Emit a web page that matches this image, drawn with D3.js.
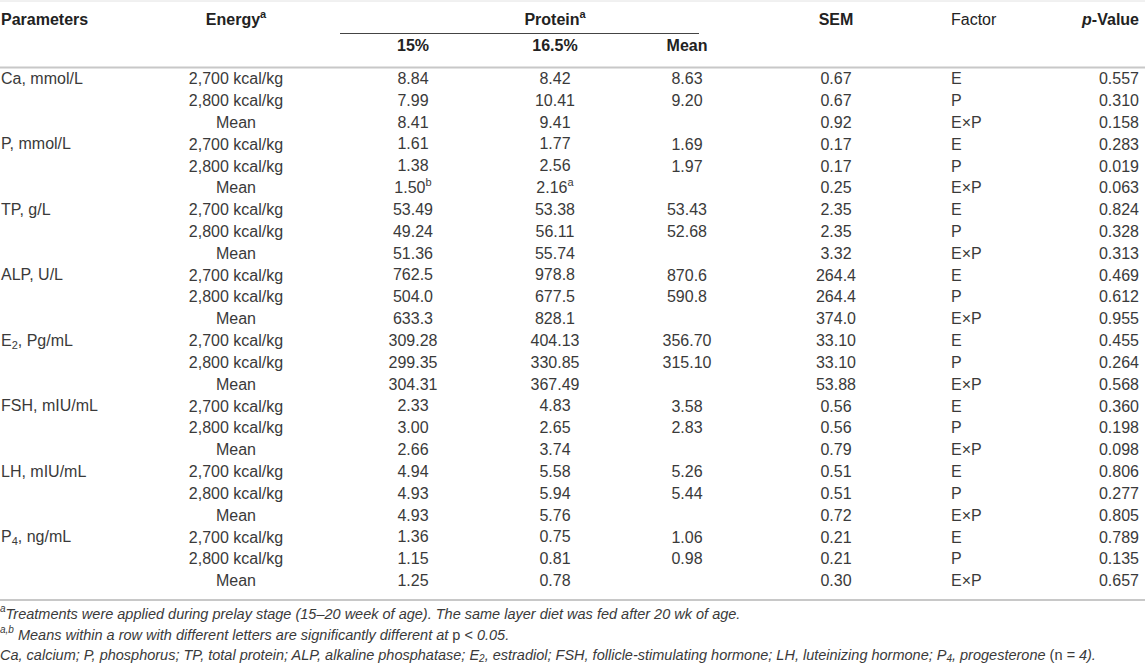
<!DOCTYPE html>
<html><head><meta charset="utf-8">
<script src="https://cdn.jsdelivr.net/npm/d3@7"></script>
<style>body{margin:0;background:#fff}svg{display:block}</style>
</head><body><svg id="c" width="1145" height="667"></svg>
<script>
// ---- data ----
const parameterNames = [["Ca","",", mmol/L"],["P","",", mmol/L"],["TP","",", g/L"],["ALP","",", U/L"],["E","2",", Pg/mL"],["FSH","",", mIU/mL"],["LH","",", mIU/mL"],["P","4",", ng/mL"]];
const energyLevels = ["2,700 kcal/kg","2,800 kcal/kg","Mean"];
const protein15 = ["8.84","7.99","8.41","1.61","1.38","1.50","53.49","49.24","51.36","762.5","504.0","633.3","309.28","299.35","304.31","2.33","3.00","2.66","4.94","4.93","4.93","1.36","1.15","1.25"];
const protein15Letters = ["","","","","","b","","","","","","","","","","","","","","","","","",""];
const protein165 = ["8.42","10.41","9.41","1.77","2.56","2.16","53.38","56.11","55.74","978.8","677.5","828.1","404.13","330.85","367.49","4.83","2.65","3.74","5.58","5.94","5.76","0.75","0.81","0.78"];
const protein165Letters = ["","","","","","a","","","","","","","","","","","","","","","","","",""];
const energyMeans = ["8.63","9.20","","1.69","1.97","","53.43","52.68","","870.6","590.8","","356.70","315.10","","3.58","2.83","","5.26","5.44","","1.06","0.98",""];
const semValues = ["0.67","0.67","0.92","0.17","0.17","0.25","2.35","2.35","3.32","264.4","264.4","374.0","33.10","33.10","53.88","0.56","0.56","0.79","0.51","0.51","0.72","0.21","0.21","0.30"];
const factors = ["E","P","E×P"];
const pValues = ["0.557","0.310","0.158","0.283","0.019","0.063","0.824","0.328","0.313","0.469","0.612","0.955","0.455","0.264","0.568","0.360","0.198","0.098","0.806","0.277","0.805","0.789","0.135","0.657"];
const headerTop = ["Parameters","Energy","Protein","SEM","Factor","p-Value"];
const headerSub = ["15%","16.5%","Mean"];

// ---- layout ----
const svg = d3.select("#c");
const FONT = "'Liberation Sans', Arial, Helvetica, sans-serif";
const TXT = "#3a3a3a";
const col = {param:1, energy:236, p15:413, p165:555, mean:687, sem:836, factor:951, pval:1139};
const nRows = parameterNames.length * energyLevels.length;
const y = d3.scalePoint().domain(d3.range(nRows)).range([80, 582]);

function txt(x, yy, anchor, opts={}) {
  return svg.append("text").attr("x", x).attr("y", yy)
    .attr("text-anchor", anchor).attr("dominant-baseline","middle")
    .attr("font-family", FONT).attr("font-size", opts.size || 16)
    .attr("font-weight", opts.bold ? "bold" : "normal")
    .attr("font-style", opts.italic ? "italic" : "normal")
    .attr("fill", opts.fill || TXT);
}
// small raised / lowered pieces; the following tspan restores the baseline
function sup(t, s, size) { t.append("tspan").attr("dy", -6).attr("font-size", size || 11).text(s); return 6; }
function sub(t, s, size, d) { d = d || 4; t.append("tspan").attr("dy", d).attr("font-size", size || 11).text(s); return -d; }

// lines
svg.append("line").attr("x1",0).attr("x2",1145).attr("y1",1).attr("y2",1).attr("stroke","#e2e2e2").attr("stroke-width",1);
svg.append("line").attr("x1",0).attr("x2",1145).attr("y1",67.5).attr("y2",67.5).attr("stroke","#c8c8c8").attr("stroke-width",2);
svg.append("line").attr("x1",340).attr("x2",699).attr("y1",33.5).attr("y2",33.5).attr("stroke","#444").attr("stroke-width",1.2);
svg.append("line").attr("x1",0).attr("x2",1145).attr("y1",600).attr("y2",600).attr("stroke","#c8c8c8").attr("stroke-width",2);

// header
const H = {bold:true, fill:"#222"};
txt(col.param, 21, "start", H).text(headerTop[0]);
let t = txt(col.energy, 21, "middle", H); t.append("tspan").text(headerTop[1]); sup(t,"a");
t = txt(col.p165, 21, "middle", H); t.append("tspan").text(headerTop[2]); sup(t,"a");
txt(col.sem, 21, "middle", H).text(headerTop[3]);
txt(col.factor, 21, "start", {fill:"#222"}).text(headerTop[4]);
t = txt(col.pval, 21, "end", H); t.append("tspan").attr("font-style","italic").text("p"); t.append("tspan").text(headerTop[5].slice(1));
txt(col.p15, 47, "middle", H).text(headerSub[0]);
txt(col.p165, 47, "middle", H).text(headerSub[1]);
txt(col.mean, 47, "middle", H).text(headerSub[2]);

// body
d3.range(nRows).forEach(i => {
  const g = Math.floor(i / 3), k = i % 3, yy = y(i);
  if (k === 0) {
    const p = parameterNames[g];
    const tt = txt(col.param, yy, "start");
    tt.append("tspan").text(p[0]);
    let back = 0;
    if (p[1]) back = sub(tt, p[1]);
    tt.append("tspan").attr("dy", back).text(p[2]);
  }
  txt(col.energy, yy, "middle").text(energyLevels[k]);
  let a = txt(col.p15, yy, "middle"); a.append("tspan").text(protein15[i]); if (protein15Letters[i]) sup(a, protein15Letters[i]);
  a = txt(col.p165, yy, "middle"); a.append("tspan").text(protein165[i]); if (protein165Letters[i]) sup(a, protein165Letters[i]);
  if (energyMeans[i]) txt(col.mean, yy, "middle").text(energyMeans[i]);
  txt(col.sem, yy, "middle").text(semValues[i]);
  txt(col.factor, yy, "start").text(factors[k]);
  txt(col.pval, yy, "end").text(pValues[i]);
});

// footnotes
const F = {italic:true, size:14.5};
let f = txt(0, 615, "start", F); let b = sup(f, "a", 10);
f.append("tspan").attr("dy", b).text("Treatments were applied during prelay stage (15–20 week of age). The same layer diet was fed after 20 wk of age.");
f = txt(0, 636, "start", F); b = sup(f, "a,b", 10);
f.append("tspan").attr("dy", b).text(" Means within a row with different letters are significantly different at ");
f.append("tspan").attr("font-style","normal").text("p < ");
f.append("tspan").text("0.05.");
f = txt(0, 656, "start", F);
f.append("tspan").text("Ca, calcium; P, phosphorus; TP, total protein; ALP, alkaline phosphatase; E");
b = sub(f, "2", 10, 3);
f.append("tspan").attr("dy", b).text(", estradiol; FSH, follicle-stimulating hormone; LH, luteinizing hormone; P");
b = sub(f, "4", 10, 3);
f.append("tspan").attr("dy", b).text(", progesterone ");
f.append("tspan").attr("font-style","normal").text("(n");
f.append("tspan").text(" = 4).");
</script></body></html>
